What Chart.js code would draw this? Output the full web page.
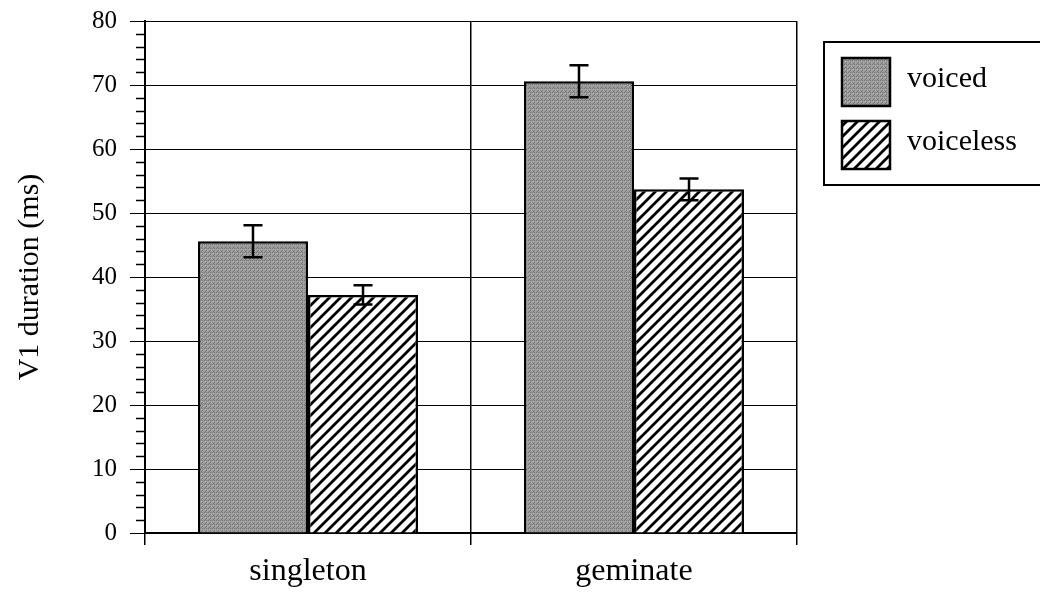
<!DOCTYPE html>
<html>
<head>
<meta charset="utf-8">
<script src="https://cdn.jsdelivr.net/npm/chart.js@4"></script>
<style>
  html, body { margin: 0; padding: 0; background: #fff; }
  #wrap { width: 1040px; height: 592px; }
</style>
</head>
<body>
<div id="wrap"><canvas id="DurationChart" width="1040" height="592"></canvas></div>
<script>
// values
const categories = ["singleton", "geminate"];
const seriesLabels = ["voiced", "voiceless"];
const voicedMeans = [45.6, 70.6];
const voicedErrors = [2.5, 2.5];
const voicelessMeans = [37.2, 53.7];
const voicelessErrors = [1.5, 1.7];
const yTicks = [0, 10, 20, 30, 40, 50, 60, 70, 80];

const serif = "'Liberation Serif', 'Times New Roman', serif";

// grey halftone fill for "voiced"
function greyPattern() {
  const c = document.createElement("canvas");
  c.width = 4; c.height = 4;
  const g = c.getContext("2d");
  g.fillStyle = "#9a9a9a";
  g.fillRect(0, 0, 4, 4);
  g.fillStyle = "#7c7c7c";
  g.fillRect(0, 0, 1, 1); g.fillRect(2, 2, 1, 1);
  g.fillRect(2, 0, 1, 1); g.fillRect(1, 3, 1, 1);
  g.fillStyle = "#b0b0b0";
  g.fillRect(1, 1, 1, 1); g.fillRect(3, 2, 1, 1);
  return g.createPattern(c, "repeat");
}

// diagonal hatch for "voiceless"
function hatchPattern() {
  const s = 11;
  const c = document.createElement("canvas");
  c.width = s; c.height = s;
  const g = c.getContext("2d");
  g.fillStyle = "#fff";
  g.fillRect(0, 0, s, s);
  g.strokeStyle = "#000";
  g.lineWidth = 2.8;
  g.beginPath();
  g.moveTo(-2, s + 2); g.lineTo(s + 2, -2);
  g.moveTo(-2, 2); g.lineTo(2, -2);
  g.moveTo(s - 2, s + 2); g.lineTo(s + 2, s - 2);
  g.stroke();
  return g.createPattern(c, "repeat");
}

const ctx = document.getElementById("DurationChart").getContext("2d");
const fills = [greyPattern(), hatchPattern()];
const errors = [voicedErrors, voicelessErrors];

// error bars drawn from the y scale
const errorBars = {
  id: "errorBars",
  afterDatasetsDraw(chart) {
    const c = chart.ctx;
    const y = chart.scales.y;
    c.save();
    c.strokeStyle = "#000";
    c.lineWidth = 2.5;
    chart.data.datasets.forEach((ds, i) => {
      const meta = chart.getDatasetMeta(i);
      meta.data.forEach((bar, j) => {
        const v = ds.data[j];
        const e = errors[i][j];
        const top = y.getPixelForValue(v + e);
        const bot = y.getPixelForValue(v - e);
        c.beginPath();
        c.moveTo(bar.x, top); c.lineTo(bar.x, bot);
        c.moveTo(bar.x - 9.5, top); c.lineTo(bar.x + 9.5, top);
        c.moveTo(bar.x - 9.5, bot); c.lineTo(bar.x + 9.5, bot);
        c.stroke();
      });
    });
    c.restore();
  }
};

// minor ticks every 2 on the y axis
const minorTicks = {
  id: "minorTicks",
  afterDraw(chart) {
    const c = chart.ctx;
    const y = chart.scales.y;
    const x0 = chart.chartArea.left;
    c.save();
    c.strokeStyle = "#000";
    c.lineWidth = 1.5;
    for (let v = y.min; v <= y.max; v += 2) {
      if (v % 10 === 0) continue;
      const py = Math.round(y.getPixelForValue(v)) + 0.5;
      c.beginPath();
      c.moveTo(x0 - 9, py); c.lineTo(x0, py);
      c.stroke();
    }
    c.restore();
  }
};

// boxed legend on the right
const boxLegend = {
  id: "boxLegend",
  afterDraw(chart) {
    const c = chart.ctx;
    c.save();
    c.fillStyle = "#fff";
    c.fillRect(824, 42, 230, 143);
    c.strokeStyle = "#000";
    c.lineWidth = 2;
    c.strokeRect(824, 42, 230, 143);
    chart.data.datasets.forEach((ds, i) => {
      const top = 58 + i * 63;
      c.fillStyle = ds.backgroundColor;
      c.fillRect(842, top, 48, 48);
      c.lineWidth = 2.5;
      c.strokeRect(842, top, 48, 48);
      c.fillStyle = "#000";
      c.font = "30px " + serif;
      c.textBaseline = "middle";
      c.fillText(ds.label, 907, top + 21);
    });
    c.restore();
  }
};

new Chart(ctx, {
  type: "bar",
  data: {
    labels: categories,
    datasets: [
      {
        label: seriesLabels[0],
        data: voicedMeans,
        backgroundColor: fills[0],
        borderColor: "#000",
        borderWidth: 2.5,
      },
      {
        label: seriesLabels[1],
        data: voicelessMeans,
        backgroundColor: fills[1],
        borderColor: "#000",
        borderWidth: 2.5,
      },
    ],
  },
  options: {
    responsive: false,
    animation: false,
    devicePixelRatio: 1,
    layout: { padding: { top: 21, right: 243, left: 0, bottom: 0 } },
    datasets: { bar: { categoryPercentage: 0.675, barPercentage: 1 } },
    plugins: {
      legend: { display: false },
      tooltip: { enabled: false },
    },
    scales: {
      x: {
        offset: true,
        grid: { offset: true, color: "#000", lineWidth: 1.5, tickLength: 12 },
        border: { color: "#000", width: 2 },
        ticks: { color: "#000", font: { family: serif, size: 32 }, padding: 7 },
        afterFit(scale) {
          scale.height = 59;
          scale.paddingLeft = 0;
          scale.paddingRight = 0;
        },
      },
      y: {
        min: 0,
        max: 80,
        afterBuildTicks(scale) { scale.ticks = yTicks.map((v) => ({ value: v })); },
        grid: { color: "#000", lineWidth: 1, tickLength: 15 },
        border: { color: "#000", width: 2 },
        ticks: { color: "#000", font: { family: serif, size: 25 }, padding: 13 },
        title: {
          display: true,
          text: "V1 duration (ms)",
          color: "#000",
          font: { family: serif, size: 30 },
          padding: { top: 12, bottom: 0 },
        },
        afterFit(scale) {
          scale.width = 145;
          scale.paddingTop = 0;
          scale.paddingBottom = 0;
        },
      },
    },
  },
  plugins: [errorBars, minorTicks, boxLegend],
});
</script>
</body>
</html>
